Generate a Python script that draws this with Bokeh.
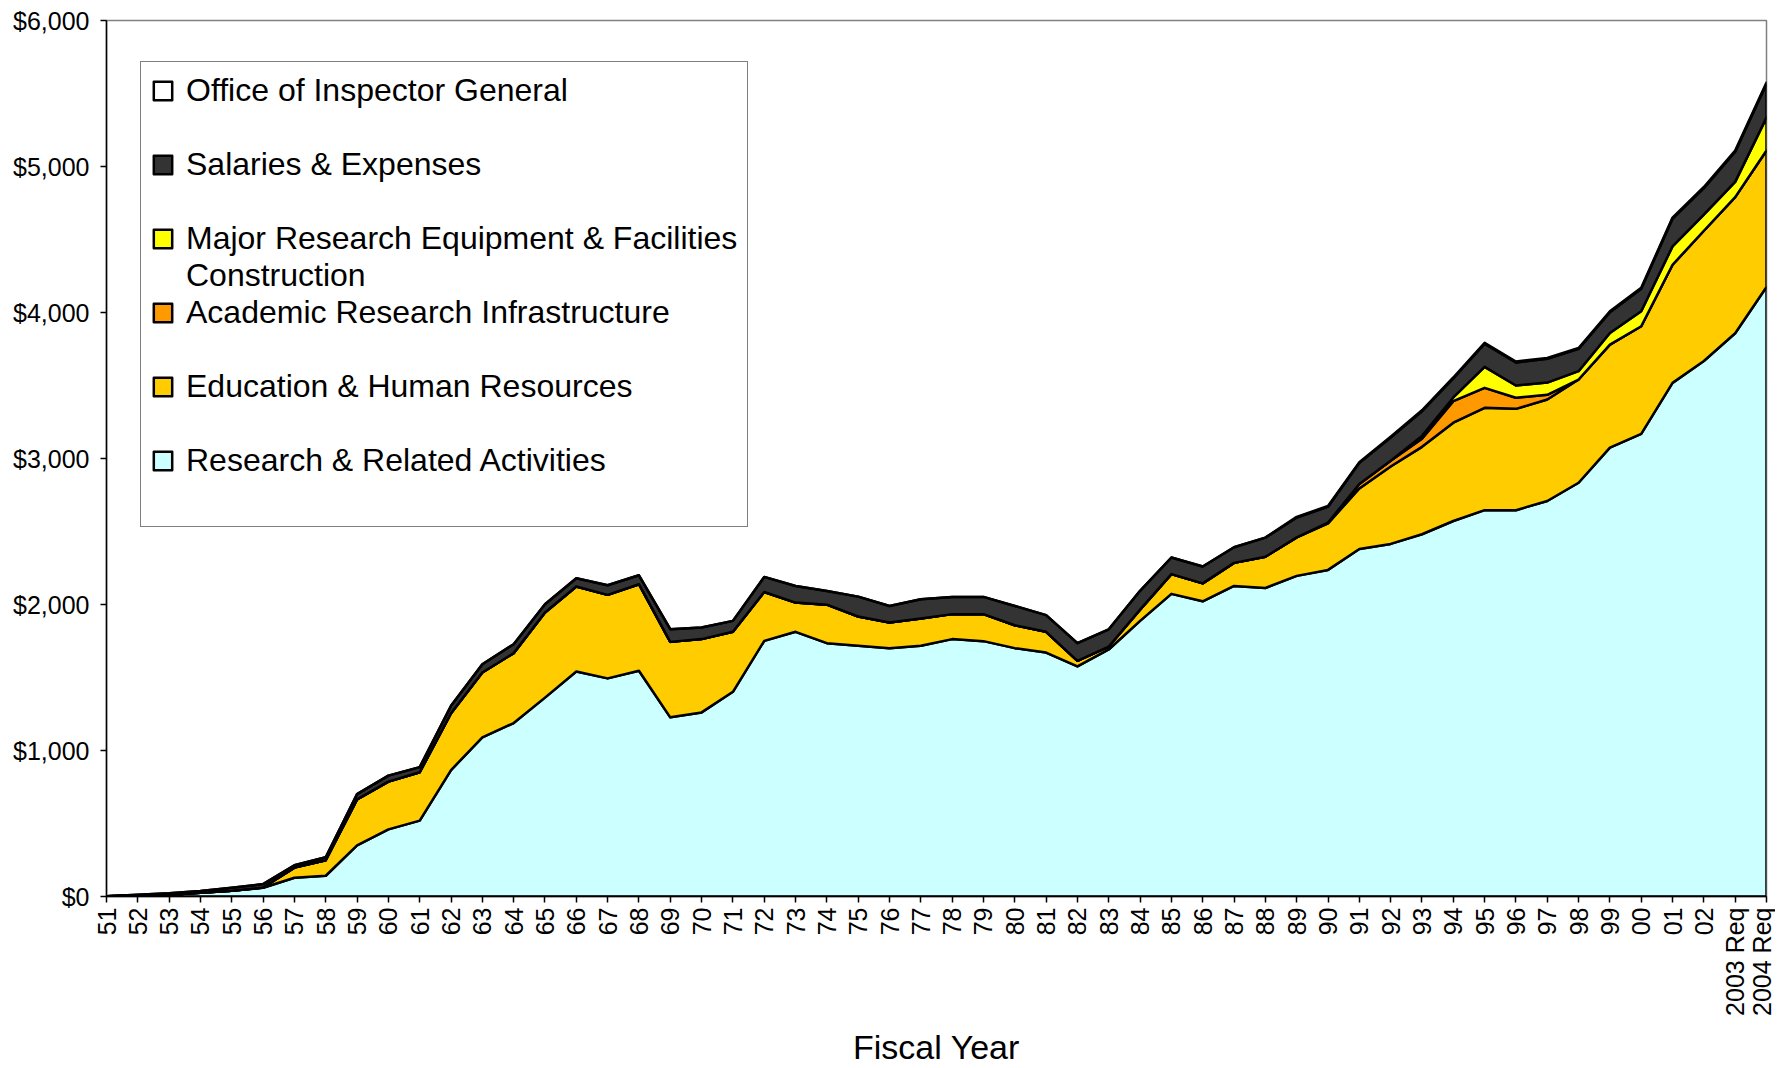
import numpy as np
from bokeh.plotting import figure
from bokeh.models import Range1d, FixedTicker, NumeralTickFormatter, Legend, LegendItem
from bokeh.embed import file_html
from bokeh.resources import INLINE

years = ["51", "52", "53", "54", "55", "56", "57", "58", "59", "60",
         "61", "62", "63", "64", "65", "66", "67", "68", "69", "70",
         "71", "72", "73", "74", "75", "76", "77", "78", "79", "80",
         "81", "82", "83", "84", "85", "86", "87", "88", "89", "90",
         "91", "92", "93", "94", "95", "96", "97", "98", "99", "00",
         "01", "02", "2003 Req", "2004 Req"]

research_related = [1, 7, 12, 25, 40, 60, 128, 142, 350, 460,
                    520, 866, 1090, 1188, 1362, 1541, 1494, 1546, 1227, 1261,
                    1402, 1751, 1813, 1735, 1717, 1701, 1717, 1763, 1749, 1701,
                    1671, 1576, 1692, 1888, 2073, 2022, 2127, 2113, 2196, 2237,
                    2380, 2415, 2481, 2572, 2646, 2646, 2709, 2834, 3074, 3169,
                    3518, 3668, 3858, 4175]

education_hr = [0, 0, 0, 0, 0, 2, 70, 106, 315, 327,
                331, 389, 444, 479, 583, 582, 572, 593, 517, 502,
                411, 335, 200, 264, 201, 176, 187, 171, 185, 157,
                142, 38, 20, 77, 135, 123, 158, 214, 264, 319,
                415, 530, 599, 673, 701, 694, 695, 707, 706, 737,
                809, 892, 932, 935]

academic_infra = [0, 0, 0, 0, 0, 0, 0, 0, 0, 0,
                  0, 0, 0, 0, 0, 0, 0, 0, 0, 0,
                  0, 0, 0, 0, 0, 0, 0, 0, 0, 0,
                  0, 0, 0, 0, 0, 0, 0, 0, 0, 5,
                  30, 40, 55, 148, 137, 76, 32, 0, 0, 0,
                  0, 0, 0, 0]

major_equipment = [0, 0, 0, 0, 0, 0, 0, 0, 0, 0,
                   0, 0, 0, 0, 0, 0, 0, 0, 0, 0,
                   0, 0, 0, 0, 0, 0, 0, 0, 0, 0,
                   0, 0, 0, 0, 0, 0, 0, 0, 0, 0,
                   0, 0, 20, 25, 144, 84, 84, 57, 80, 102,
                   126, 110, 105, 225]

salaries_expenses = [1, 5, 10, 12, 20, 23, 16, 21, 36, 41,
                     35, 51, 57, 61, 57, 57, 66, 61, 87, 79,
                     75, 103, 114, 94, 136, 113, 132, 118, 118, 132,
                     114, 121, 118, 129, 114, 115, 107, 131, 136, 109,
                     145, 159, 169, 131, 158, 158, 163, 153, 142, 155,
                     190, 182, 206, 231]

inspector_general = [0, 0, 0, 0, 0, 0, 0, 0, 0, 0,
                     0, 0, 0, 0, 0, 0, 0, 0, 0, 0,
                     0, 0, 0, 0, 0, 0, 0, 0, 0, 0,
                     0, 0, 0, 0, 0, 0, 0, 0, 4, 5,
                     5, 6, 6, 6, 6, 6, 6, 6, 6, 7,
                     7, 8, 9, 9]

series = [
    ("Research & Related Activities", research_related, "#CCFFFF"),
    ("Education & Human Resources", education_hr, "#FFCC00"),
    ("Academic Research Infrastructure", academic_infra, "#FF9900"),
    ("Major Research Equipment & Facilities", major_equipment, "#FFFF00"),
    ("Salaries & Expenses", salaries_expenses, "#333333"),
    ("Office of Inspector General", inspector_general, "#FFFFFF"),
]

FONT = "Liberation Sans"
x = np.arange(len(years))

p = figure(width=1775, height=1068, output_backend="svg", toolbar_location=None,
           x_range=Range1d(0, len(years) - 1), y_range=Range1d(0, 6000),
           min_border_left=106, min_border_right=9, min_border_top=20, min_border_bottom=0,
           background_fill_color="white", border_fill_color="white")

bottom = np.zeros(len(x))
rend = {}
for name, vals, color in series:
    top = bottom + np.array(vals, dtype=float)
    r = p.patch(np.concatenate([x, x[::-1]]), np.concatenate([top, bottom[::-1]]),
                fill_color=color, line_color="black", line_width=2.5, line_join="round")
    rend[name] = r
    bottom = top

blank = p.patch([0, 0], [0, 0], fill_alpha=0, line_alpha=0)

items = [
    LegendItem(label="Office of Inspector General", renderers=[rend["Office of Inspector General"]]),
    LegendItem(label=" ", renderers=[blank]),
    LegendItem(label="Salaries & Expenses", renderers=[rend["Salaries & Expenses"]]),
    LegendItem(label=" ", renderers=[blank]),
    LegendItem(label="Major Research Equipment & Facilities", renderers=[rend["Major Research Equipment & Facilities"]]),
    LegendItem(label="Construction", renderers=[blank]),
    LegendItem(label="Academic Research Infrastructure", renderers=[rend["Academic Research Infrastructure"]]),
    LegendItem(label=" ", renderers=[blank]),
    LegendItem(label="Education & Human Resources", renderers=[rend["Education & Human Resources"]]),
    LegendItem(label=" ", renderers=[blank]),
    LegendItem(label="Research & Related Activities", renderers=[rend["Research & Related Activities"]]),
    LegendItem(label=" ", renderers=[blank]),
]
legend = Legend(items=items, location=(34, 369), orientation="vertical", spacing=0,
                padding=10, margin=0, glyph_width=23, glyph_height=23, label_height=37,
                label_standoff=12, label_text_font=FONT, label_text_font_size="32px",
                label_text_color="black", border_line_color="black", border_line_width=1,
                background_fill_color="white", background_fill_alpha=1.0)
p.add_layout(legend, "center")

p.xgrid.visible = False
p.ygrid.visible = False
p.outline_line_color = "#808080"
p.outline_line_width = 1.5

p.xaxis.ticker = FixedTicker(ticks=[int(v) for v in x])
p.xaxis.major_label_overrides = {int(i): lab for i, lab in zip(x, years)}
p.xaxis.major_label_orientation = np.pi / 2
p.xaxis.axis_label = "Fiscal Year"
p.xaxis.axis_label_text_font = FONT
p.xaxis.axis_label_text_font_size = "34px"
p.xaxis.axis_label_text_font_style = "normal"
p.xaxis.axis_label_text_color = "black"
p.xaxis.axis_label_standoff = 9
p.xaxis.major_label_standoff = 5

p.yaxis.ticker = FixedTicker(ticks=[0, 1000, 2000, 3000, 4000, 5000, 6000])
p.yaxis.formatter = NumeralTickFormatter(format="$0,0")
p.yaxis.major_label_standoff = 11

for ax in (p.xaxis, p.yaxis):
    ax.major_label_text_font = FONT
    ax.major_label_text_font_size = "25px"
    ax.major_label_text_color = "black"
    ax.axis_line_color = "black"
    ax.axis_line_width = 1.5
    ax.major_tick_line_color = "black"
    ax.major_tick_line_width = 1.5
    ax.major_tick_in = 0
    ax.major_tick_out = 6
    ax.minor_tick_line_color = None

open("out.html", "w").write(file_html(p, INLINE))
